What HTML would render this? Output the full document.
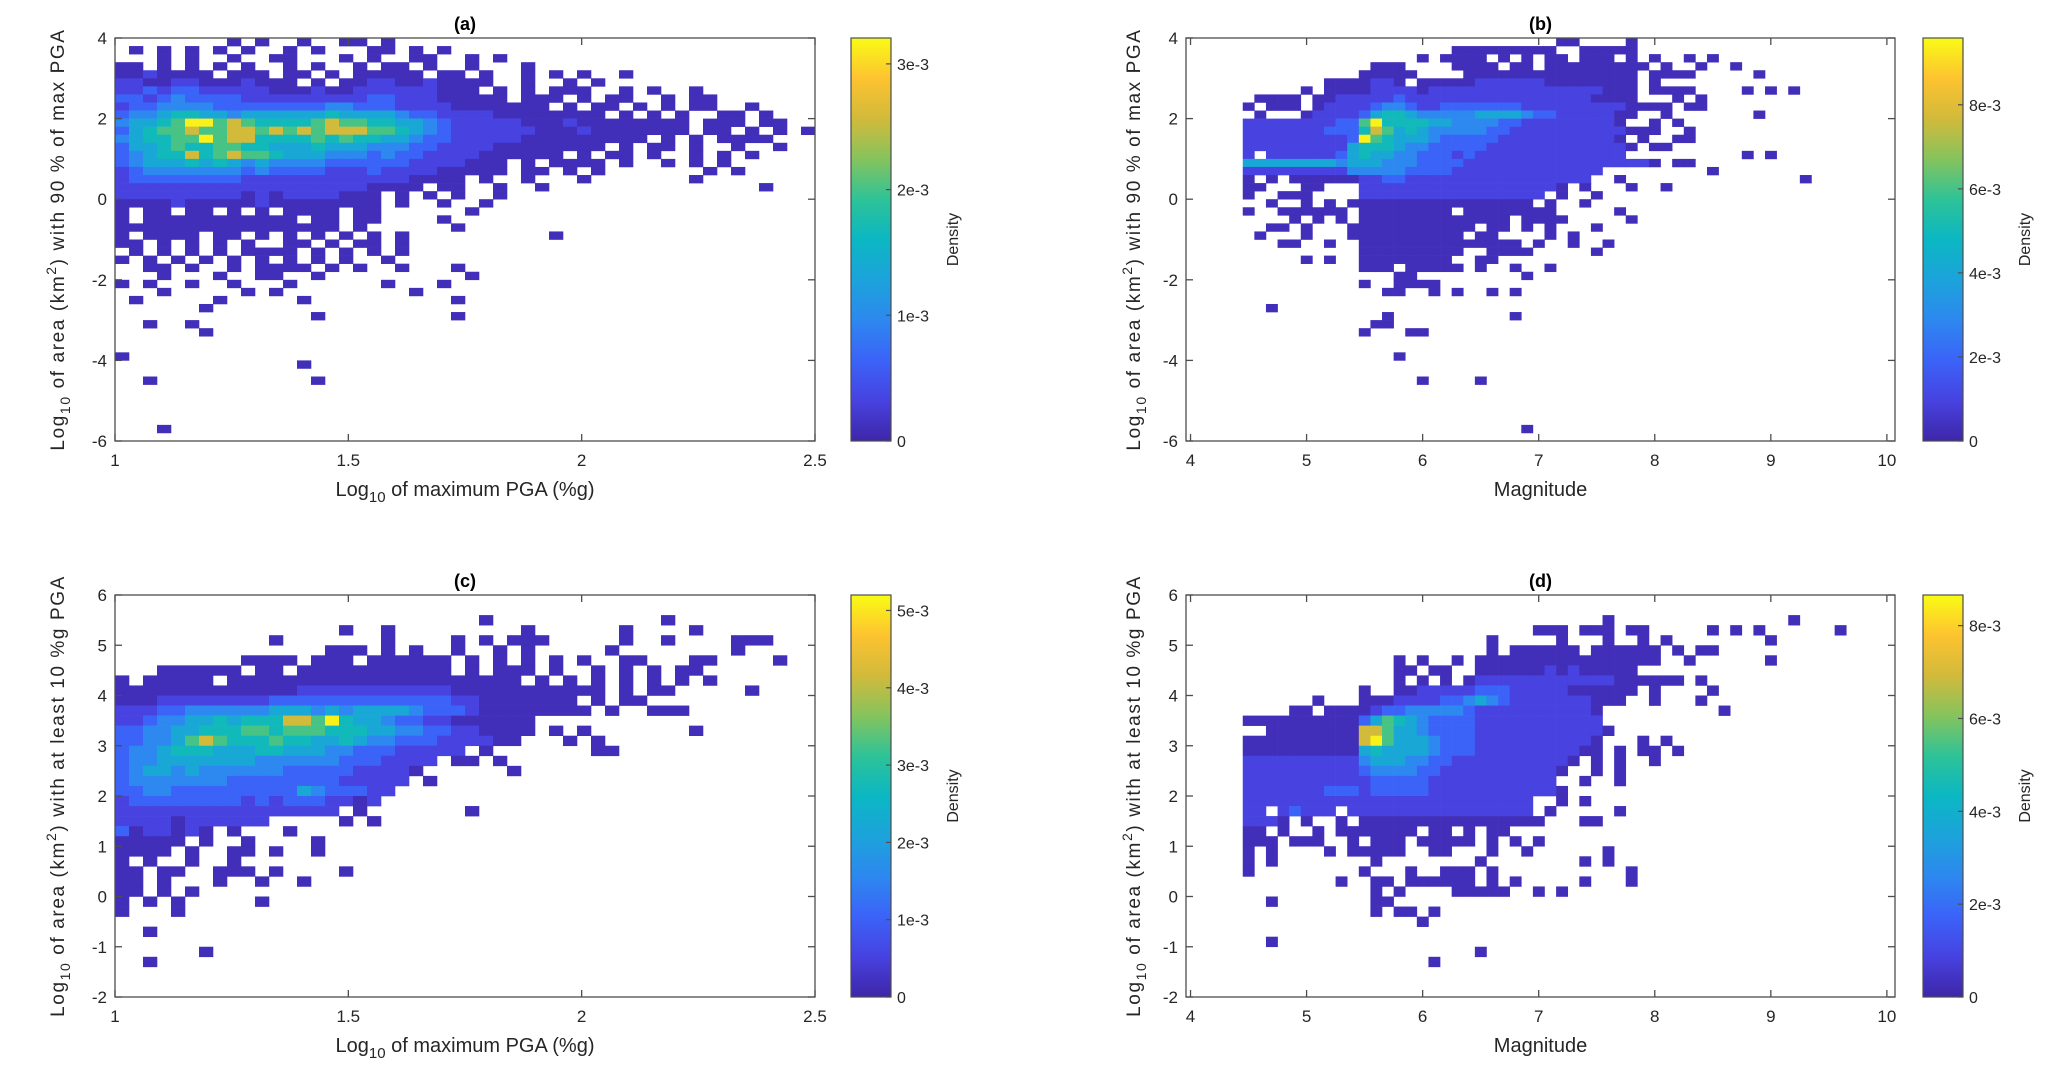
<!DOCTYPE html>
<html><head><meta charset="utf-8"><style>
html,body{margin:0;padding:0;background:#fff;}
svg{display:block;font-family:"Liberation Sans",Arial,sans-serif;}
</style></head><body>
<svg id="fig" width="2067" height="1074" viewBox="0 0 2067 1074" xmlns="http://www.w3.org/2000/svg">
<defs>
<linearGradient id="parula" x1="0" y1="1" x2="0" y2="0">
<stop offset="0" stop-color="#3e26a8"/><stop offset="0.1" stop-color="#4742e0"/><stop offset="0.2" stop-color="#3b63f8"/><stop offset="0.3" stop-color="#2d88ef"/><stop offset="0.4" stop-color="#1ca3db"/><stop offset="0.5" stop-color="#0bb7c3"/><stop offset="0.6" stop-color="#2ec397"/><stop offset="0.7" stop-color="#86c35d"/><stop offset="0.8" stop-color="#d2ba3b"/><stop offset="0.9" stop-color="#fdc330"/><stop offset="1" stop-color="#f9fb15"/>
</linearGradient>
</defs>
</svg>
<script>
// ---------- DATA ----------
// Density level grids (char per bin: '.' empty, 1..9 density level), rows top->bottom
const gridA = [
"........1.1..1..11.1..............................",
".1.1.1.1.1..1.1...11.1.1..........................",
"...1.1..1..11...1.1..11..1.1......................",
"11.1.1.1.1..1.1..1.11.1..1...1....................",
"1121111.111.11.1.11111.11.1..1.1.1..1.............",
"2211221112111.1.11221121111..1..1.1...............",
"22323322222111211222222111.1.1.111..1.1..1........",
"3323433332222222223322211111.111.1.11..1.11.......",
"2334444333333334433322221111111.1.11.1.1.11..1....",
"34456655455555565555433222211111111.1.1.1..11.1...",
"45567997876666787766554322222111211111111.111.11..",
"35677877887878788877654322222211121111111.11.1.1.1",
"45667797886666767665543322222111111111.1.1.1111...",
"35567667766555655544433222211111111.1.11.1..1..1..",
"34566867877655544434332222111111.1.11.1..1.1.1....",
"3455565654544443333332222111.1.1111.1..1.1.1......",
"2344444443433332223222211111.11.1.1.......1.1.....",
"2333333332222222222221111.1..1...1.......1........",
"2222222222222222221111.11..1..1...............1...",
"2222222221212222111.1.1.1..1......................",
"1111211111211111111.1..1..1.......................",
"1.11.11.1.1.1111.11......1........................",
"1.11111111111.11.11....1..........................",
"1111111111111111.1......1.........................",
"1.1111.11.1.1.1.1.1.1..........1..................",
"11.1.1.1.1..11.1.11.1.............................",
".1.1.1.1.1111.1.1.1.1.............................",
"1.1.1.1.1.1.1.1.1..1..............................",
"..11.1..1.1111.1.1..1...1.........................",
"...1...1..11..1..........1........................",
"1.1..1..1...1......1...1..........................",
"...1.....1.1.........1............................",
".1.....1.....1..........1.........................",
"......1...........................................",
"..............1.........1.........................",
"..1..1............................................",
"......1...........................................",
"", "",
"1.................................................",
".............1....................................",
"",
"..1...........1...................................",
"", "", "", "", "",
"...1.............................................."
];
const gridB = [
"...........................11....1",
"..................111111111..11111",
"...............1.1111.1.1.11.111.1.1..1.1",
"...........111....1111.11.111111111.1..1..1",
"..........11111....111111111111111.1111.....1",
".......1111221.1111122222211111111.1",
".....1.111122221222222222222222111.1111....1.1.1",
".1111.1122222322222222222222221111...1.1",
"1.111.1222234432233333332222222221111.11",
".1...12222356654444455554332222211..1.......1",
"222222223379666655444433222222221..1.1",
"222222233368756544444332222222222111..1",
"222222222397655543333322222222221.1..11",
"2222222225666544333332222222222221.11",
"2.2222223565544333232222222222222..........1.1",
"555555554555444333322222222222222221.11",
"2222222224444433332222222222222.........1",
"1.1.11111122332222222222222222..1...............1",
"11...11...222222222222222221.1...1..1",
"1..111....2222222222222222.1..1",
"..1..1.1.1111111111111111.1..1",
"1..111111.11111111.11111111.....1",
"....1.1.1.1111111111111.1111.....1",
"..11.1...11111111111.11.1.1...1",
".1...1...1111111111.11....1.1",
"...11..1..11111111111111.1..1..1",
"..........111111111..1111.....1",
".....1.1..11111111..11",
"..........111.11111.1..1..1",
".............11.........1",
"..........1..1111",
"............11..1.1..1.1",
"",
"..1",
"............1..........1",
"...........11",
"..........1...11",
"", "",
".............1",
"", "",
"...............1....1",
"", "", "", "", "",
"........................1"
];
const gridC = [
"", "",
"..........................1............1",
"................1..1.........1......1....1",
"...........1.......1....1.1.111.....1..1....111",
"...............111.1.1..1..1.1.....1........1",
".........1111.111.111111.1.1.1.1.1..11...11....1",
"...111111.11.11111111111.1.111.1..1.1.1.11",
"1.11111.111111111111111111111.1.1.1.1.1.1.1",
"11111111111112222222222211111111111.1.11.....1",
"111222222223333333333333221111111.1.11",
"2223344444455545455554333211111111.1..111",
"223445565666887965543322111111",
"334455666776777666554433221111.1.1.......1",
"33445787666766556544333222211...1.1",
"3445666555665554433322222.1.......11",
"34455555554444443332222.11.1",
"3455454444443333322221......1",
"344444443333333322222.1",
"33443333333335433322",
"2333333332323332212",
"2222222222222222.1.......1",
"22221222222.....1.1",
"3122121.1...1",
"11111.1..1....1",
"1111.1..11.1..1",
"1.1..1..1",
"11.11..111.1....1",
"11.1...1..1..1",
"11.1.1",
"1.1.1.....1",
"1...1",
"",
"..1",
"",
"......1",
"..1"
];
const gridD = [
"", "",
"...............................1...............1",
".........................111.111.11.....1.1.1......1",
".....................1.....1...1..1.1........1",
".....................1.111111.111111.1.11",
".............1.1..1.1111111111111111..1......1",
".............11.11..11111121211111",
".............1.1.1.1222222222222111111.1",
"..........1..112222233322222111111.1....1",
"......1...11122223345432222222111..1...1",
"....11.111123344444322222222221..........1",
"1111111111357654333322222222222",
"..111111118875543333222222222221",
"1111111111897555433322222222221...1.1",
"1111111111565555433322222222211.1.11.1",
"22222222224555443322222222221.1.1..1",
"2222222222344443322222222221..1.1",
"222222222223333322222222222..1..1",
"2222222333233333222222222221",
"2222222222222222222222222..1.1",
"22.23222.2222222222222222.1.....1",
"2221.1..1.1111111111111111...11",
"11.1..1.1111111.11.1.11",
"111.111..1.111.11111.1.1.1",
"1.1....1.11111..11...1..1......1",
"1.1........1........1........1.1",
"1.........1...1..111.1...........1",
"........1..11.111111.1.1.....1...1",
"...........1.1....11111..1.1",
"..1........11",
"...........1.11.1",
"...............1",
"",
"..1",
"....................1",
"................1"
];
// bin origins / steps (data units)
const binsA = [1.0, 0.03, 4, 0.2];     // xStart, xStep, yTop, yStep
const binsB = [4.45, 0.1, 4, 0.2];
const binsC = [1.0, 0.03, 6, 0.2];
const binsD = [4.45, 0.1, 6, 0.2];
const xTicksPGA = [1, 1.5, 2, 2.5];
const xTicksMag = [4, 5, 6, 7, 8, 9, 10];
const yTicksA = [-6, -4, -2, 0, 2, 4];
const yTicksC = [-2, -1, 0, 1, 2, 3, 4, 5, 6];
const cbTicksA = [0, 1e-3, 2e-3, 3e-3];
const cbTicksB = [0, 2e-3, 4e-3, 6e-3, 8e-3];
const cbTicksC = [0, 1e-3, 2e-3, 3e-3, 4e-3, 5e-3];
const cbTicksD = [0, 2e-3, 4e-3, 6e-3, 8e-3];
const cbLabelsA = ["0", "1e-3", "2e-3", "3e-3"];
const cbLabelsB = ["0", "2e-3", "4e-3", "6e-3", "8e-3"];
const cbLabelsC = ["0", "1e-3", "2e-3", "3e-3", "4e-3", "5e-3"];
const cbLabelsD = ["0", "2e-3", "4e-3", "6e-3", "8e-3"];
const cbMax = [3.206e-3, 9.59e-3, 5.2e-3, 8.66e-3];

// ---------- RENDER ----------
const NS = "http://www.w3.org/2000/svg";
const svg = document.getElementById("fig");
function mk(tag, attrs, parent) {
  const e = document.createElementNS(NS, tag);
  for (const k in attrs) e.setAttribute(k, attrs[k]);
  (parent || svg).appendChild(e);
  return e;
}
const stops = [[0,[62,38,168]],[0.1,[71,66,224]],[0.2,[59,99,248]],[0.3,[45,136,239]],[0.4,[28,163,219]],[0.5,[11,183,195]],[0.6,[46,195,151]],[0.7,[134,195,93]],[0.8,[210,186,59]],[0.9,[253,195,48]],[1,[249,251,21]]];
const levelFrac = [0, 0.03, 0.1, 0.2, 0.3, 0.42, 0.52, 0.63, 0.8, 0.98];
function parula(f) {
  for (let i = 1; i < stops.length; i++) {
    if (f <= stops[i][0]) {
      const a = stops[i-1], b = stops[i], t = (f - a[0]) / (b[0] - a[0]);
      const c = a[1].map((v, j) => Math.round(v + (b[1][j] - v) * t));
      return "rgb(" + c.join(",") + ")";
    }
  }
  return "rgb(249,251,21)";
}

function panel(cfg) {
  const g = mk("g", {});
  
  
  const {L, R, T, B, xmin, xmax, ymin, ymax} = cfg;
  const xs = v => L + (v - xmin) / (xmax - xmin) * (R - L);
  const ys = v => B - (v - ymin) / (ymax - ymin) * (B - T);
  const cells = mk("g", {}, g);
  
  
  const [x0, dx, y0, dy] = cfg.bins;
  cfg.grid.forEach((row, r) => {
    for (let c = 0; c < row.length; c++) {
      const ch = row[c];
      if (ch < "1" || ch > "9") continue;
      const xa = xs(x0 + c * dx), xb = xs(x0 + (c + 1) * dx);
      const ya = ys(y0 - r * dy), yb = ys(y0 - (r + 1) * dy);
      const rect = mk("rect", {x: xa, y: ya, width: xb - xa + 0.3, height: yb - ya + 0.3, fill: parula(levelFrac[+ch])}, cells);
      
      
    }
  });
  const fr = mk("rect", {x: L, y: T, width: R - L, height: B - T, fill: "none", stroke: "#4d4d4d", "stroke-width": 1.3}, g);
  
  
  cfg.xticks.forEach(v => {
    const x = xs(v);
    mk("line", {x1: x, y1: B, x2: x, y2: B - 7, stroke: "#4d4d4d", "stroke-width": 1.3}, g);
    mk("line", {x1: x, y1: T, x2: x, y2: T + 7, stroke: "#4d4d4d", "stroke-width": 1.3}, g);
    const t = mk("text", {x: x, y: B + 25, "text-anchor": "middle", "font-size": 17, fill: "#262626"}, g);
    t.textContent = String(v);
    
    
  });
  cfg.yticks.forEach(v => {
    const y = ys(v);
    mk("line", {x1: L, y1: y, x2: L + 7, y2: y, stroke: "#4d4d4d", "stroke-width": 1.3}, g);
    mk("line", {x1: R, y1: y, x2: R - 7, y2: y, stroke: "#4d4d4d", "stroke-width": 1.3}, g);
    const t = mk("text", {x: L - 8, y: y + 6, "text-anchor": "end", "font-size": 17, fill: "#262626"}, g);
    t.textContent = String(v);
    
    
  });
  const tt = mk("text", {x: (L + R) / 2, y: T - 8, "text-anchor": "middle", "font-size": 18, "font-weight": "bold", fill: "#000"}, g);
  tt.textContent = cfg.title;
  
  
  const xl = mk("text", {x: (L + R) / 2, y: B + 55, "text-anchor": "middle", "font-size": 20, fill: "#262626"}, g);
  
  
  if (cfg.xlog) {
    xl.innerHTML = 'Log<tspan font-size="15" dy="6">10</tspan><tspan dy="-6"> of maximum PGA (%g)</tspan>';
  } else xl.textContent = "Magnitude";
  const yl = mk("text", {transform: "translate(" + cfg.ylx + "," + (T + B) / 2 + ") rotate(-90)", "text-anchor": "middle", "font-size": 19, fill: "#262626", "letter-spacing": "1.6"}, g);
  
  
  yl.innerHTML = 'Log<tspan font-size="14" dy="6">10</tspan><tspan dy="-6"> of area (km</tspan><tspan font-size="14" dy="-8">2</tspan><tspan dy="8">) ' + cfg.ytext + '</tspan>';
  const cb = mk("g", {}, g);
  
  
  const cx = cfg.cbx, cw = 40;
  mk("rect", {x: cx, y: T, width: cw, height: B - T, fill: "url(#parula)", stroke: "#4d4d4d", "stroke-width": 1.2}, cb);
  cfg.cbTicks.forEach((v, i) => {
    const y = B - v / cfg.cbMax * (B - T);
    mk("line", {x1: cx + cw, y1: y, x2: cx + cw - 5, y2: y, stroke: "#4d4d4d", "stroke-width": 1.2}, cb);
    const t = mk("text", {x: cx + cw + 6, y: y + 6, "font-size": 16, fill: "#262626"}, cb);
    t.textContent = cfg.cbLabels[i];
    
    
  });
  const dl = mk("text", {transform: "translate(" + (cx + 107) + "," + (T + B) / 2 + ") rotate(-90)", "text-anchor": "middle", "font-size": 16, fill: "#262626"}, cb);
  dl.textContent = "Density";
  
  
}

panel({name: "panel-a", title: "(a)", L: 115, R: 815, T: 38, B: 441, xmin: 1, xmax: 2.5, ymin: -6, ymax: 4,
  grid: gridA, bins: binsA, xticks: xTicksPGA, yticks: yTicksA, xlog: true, ylx: 64,
  ytext: "with 90 % of max PGA", cbx: 851, cbTicks: cbTicksA, cbLabels: cbLabelsA, cbMax: cbMax[0]});
panel({name: "panel-b", title: "(b)", L: 1186, R: 1895, T: 38, B: 441, xmin: 3.961, xmax: 10.07, ymin: -6, ymax: 4,
  grid: gridB, bins: binsB, xticks: xTicksMag, yticks: yTicksA, xlog: false, ylx: 1140,
  ytext: "with 90 % of max PGA", cbx: 1923, cbTicks: cbTicksB, cbLabels: cbLabelsB, cbMax: cbMax[1]});
panel({name: "panel-c", title: "(c)", L: 115, R: 815, T: 595, B: 997, xmin: 1, xmax: 2.5, ymin: -2, ymax: 6,
  grid: gridC, bins: binsC, xticks: xTicksPGA, yticks: yTicksC, xlog: true, ylx: 64,
  ytext: "with at least 10 %g PGA", cbx: 851, cbTicks: cbTicksC, cbLabels: cbLabelsC, cbMax: cbMax[2]});
panel({name: "panel-d", title: "(d)", L: 1186, R: 1895, T: 595, B: 997, xmin: 3.961, xmax: 10.07, ymin: -2, ymax: 6,
  grid: gridD, bins: binsD, xticks: xTicksMag, yticks: yTicksC, xlog: false, ylx: 1140,
  ytext: "with at least 10 %g PGA", cbx: 1923, cbTicks: cbTicksD, cbLabels: cbLabelsD, cbMax: cbMax[3]});
</script>
</body></html>
